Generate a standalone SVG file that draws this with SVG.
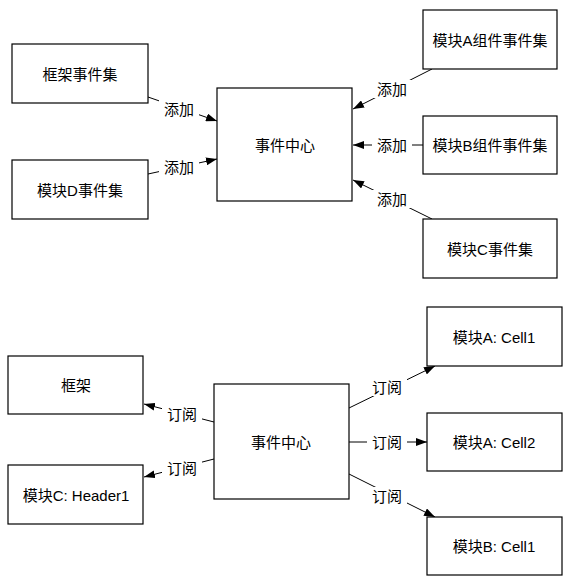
<svg xmlns="http://www.w3.org/2000/svg" width="568" height="586" viewBox="0 0 568 586">
<style>
.box{fill:#fff;stroke:#000;stroke-width:1.2}
.t{font-family:"Liberation Sans","Noto Sans CJK SC",sans-serif;font-size:15px;fill:#000;text-anchor:middle;dominant-baseline:central}
.e{stroke:#000;stroke-width:1;fill:none;marker-end:url(#arr)}
.lb{fill:#fff}
</style>
<defs>
<marker id="arr" markerUnits="userSpaceOnUse" markerWidth="11" markerHeight="8" refX="11" refY="4" orient="auto">
<path d="M0,0 L11,4 L0,8 z" fill="#000"/>
</marker>
</defs>
<rect width="568" height="586" fill="#fff"/>
<g id="connectors">
<line class="e" x1="148" y1="97" x2="217" y2="121"/>
<line class="e" x1="148" y1="174" x2="217" y2="159"/>
<line class="e" x1="432" y1="69" x2="353" y2="109"/>
<line class="e" x1="423" y1="145" x2="353" y2="145"/>
<line class="e" x1="432" y1="219" x2="353" y2="180"/>
<line class="e" x1="214" y1="422" x2="144" y2="404"/>
<line class="e" x1="214" y1="459" x2="144" y2="477"/>
<line class="e" x1="349" y1="408" x2="435" y2="366"/>
<line class="e" x1="349" y1="442" x2="427" y2="442"/>
<line class="e" x1="349" y1="474" x2="435" y2="517"/>
<g id="labels">
<rect class="lb" x="159" y="100" width="40" height="18"/><text class="t" x="179" y="109">添加</text>
<rect class="lb" x="159" y="158" width="40" height="18"/><text class="t" x="179" y="167">添加</text>
<rect class="lb" x="372" y="80" width="40" height="18"/><text class="t" x="392" y="89">添加</text>
<rect class="lb" x="372" y="136" width="40" height="18"/><text class="t" x="392" y="145">添加</text>
<rect class="lb" x="372" y="190" width="40" height="18"/><text class="t" x="392" y="199">添加</text>
<rect class="lb" x="162" y="405" width="40" height="18"/><text class="t" x="182" y="414">订阅</text>
<rect class="lb" x="162" y="459" width="40" height="18"/><text class="t" x="182" y="468">订阅</text>
<rect class="lb" x="367" y="378" width="40" height="18"/><text class="t" x="387" y="387">订阅</text>
<rect class="lb" x="367" y="433" width="40" height="18"/><text class="t" x="387" y="442">订阅</text>
<rect class="lb" x="367" y="487" width="40" height="18"/><text class="t" x="387" y="496">订阅</text>
</g>
</g>
<g id="framework-events"><rect class="box" x="12" y="44" width="136" height="59"/><text class="t" x="80" y="74">框架事件集</text></g>
<g id="moduleD-events"><rect class="box" x="12" y="160" width="136" height="59"/><text class="t" x="80" y="190">模块D事件集</text></g>
<g id="event-center-top"><rect class="box" x="217" y="88" width="135" height="113"/><text class="t" x="285" y="145">事件中心</text></g>
<g id="moduleA-events"><rect class="box" x="423" y="10" width="134" height="59"/><text class="t" x="490" y="40">模块A组件事件集</text></g>
<g id="moduleB-events"><rect class="box" x="423" y="116" width="134" height="58"/><text class="t" x="490" y="145">模块B组件事件集</text></g>
<g id="moduleC-events"><rect class="box" x="423" y="219" width="134" height="59"/><text class="t" x="490" y="249">模块C事件集</text></g>
<g id="framework"><rect class="box" x="8" y="356" width="135" height="58"/><text class="t" x="76" y="385">框架</text></g>
<g id="moduleC-header1"><rect class="box" x="8" y="465" width="135" height="59"/><text class="t" x="76" y="495">模块C: Header1</text></g>
<g id="event-center-bottom"><rect class="box" x="214" y="384" width="135" height="115"/><text class="t" x="281" y="442">事件中心</text></g>
<g id="moduleA-cell1"><rect class="box" x="427" y="307" width="135" height="59"/><text class="t" x="494" y="337">模块A: Cell1</text></g>
<g id="moduleA-cell2"><rect class="box" x="427" y="413" width="135" height="58"/><text class="t" x="494" y="442">模块A: Cell2</text></g>
<g id="moduleB-cell1"><rect class="box" x="427" y="517" width="135" height="58"/><text class="t" x="494" y="546">模块B: Cell1</text></g>
</svg>
